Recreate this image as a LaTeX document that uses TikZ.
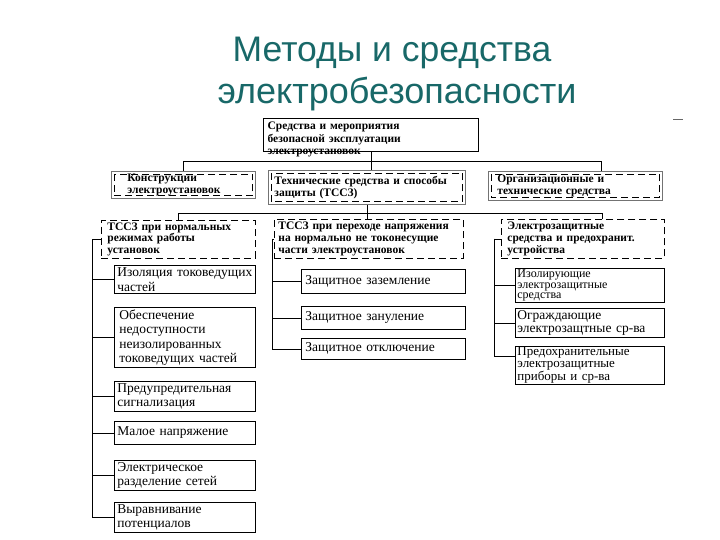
\documentclass[tikz,border=0pt]{standalone}
\usepackage{fontspec}
\setmainfont{Liberation Serif}
\newfontfamily\titlefont{Liberation Sans}
\definecolor{titleteal}{RGB}{24,104,104}

\begin{document}
\begin{tikzpicture}[x=1pt,y=-1pt,
  every node/.style={anchor=north west, align=left, inner ysep=2pt, inner xsep=3pt},
  headbox/.style={draw, font=\bfseries\fontsize{11.5}{12.5}\selectfont},
  groupbox/.style={draw=black!55, thick, font=\bfseries\fontsize{11.5}{12.5}\selectfont},
  dashbox/.style={draw, thick, dash pattern=on 7pt off 4pt, font=\bfseries\fontsize{11.5}{11.8}\selectfont},
  itembox/.style={draw, thick, font=\fontsize{13.5}{14.5}\selectfont},
  link/.style={thick}]
  \useasboundingbox (0,0) rectangle (720,540);

  % title
  \node[anchor=base, font=\titlefont\fontsize{35.5}{40}\selectfont, text=titleteal] (title1) at (392,62) {Методы и средства};
  \node[anchor=base, font=\titlefont\fontsize{36}{40}\selectfont, text=titleteal] (title2) at (397,104) {электробезопасности};
  \draw[black!60, thick] (673,119) -- (683,119);

  % top box
  \node[headbox, very thick, inner xsep=4pt, text width=207pt, text height=9pt, text depth=20pt] (sredstva) at (263,118)
    {Средства и мероприятия\\безопасной эксплуатации\\электроустановок};

  % second row
  \node[groupbox, inner xsep=16pt, text width=112pt, minimum height=27pt] (konstr) at (111,171)
    {Конструкции\\электроустановок};
  \node[groupbox, inner xsep=6pt, text width=185pt, minimum height=34pt] (tssz) at (268,170)
    {Технические средства и способы\\защиты (ТССЗ)};
  \node[groupbox, inner xsep=9pt, text width=156pt, minimum height=29pt] (org) at (488,171)
    {Организационные и\\технические средства};
  \foreach \n in {konstr,tssz,org}
    \draw[thick, dash pattern=on 7pt off 4pt] ([shift={(3pt,-3pt)}]\n.north west) rectangle ([shift={(-3pt,3pt)}]\n.south east);

  % third row
  \node[dashbox, inner xsep=6pt, text width=142pt, minimum height=37pt] (tssz1) at (101,220)
    {ТССЗ при нормальных\\режимах работы\\установок};
  \node[dashbox, inner xsep=4pt, text width=181pt, minimum height=39pt] (tssz2) at (274,219)
    {ТССЗ при переходе напряжения\\на нормально не токонесущие\\части электроустановок};
  \node[dashbox, inner xsep=6pt, text width=151pt, minimum height=39pt] (elzasch) at (501,219)
    {Электрозащитные\\средства и предохранит.\\устройства};

  % left column
  \node[itembox, text width=135pt, minimum height=28pt] (izol) at (114,265) {Изоляция токоведущих\\частей};
  \node[itembox, inner xsep=5pt, text width=131pt, minimum height=59pt] (obesp) at (114,307)
    {Обеспечение\\недоступности\\неизолированных\\токоведущих частей};
  \node[itembox, text width=135pt, minimum height=25pt] (preduprezh) at (114,381) {Предупредительная\\сигнализация};
  \node[itembox, text width=135pt, minimum height=23pt] (maloe) at (114,421) {Малое напряжение};
  \node[itembox, text width=135pt, minimum height=25pt] (razdel) at (114,460) {Электрическое\\разделение сетей};
  \node[itembox, text width=135pt, minimum height=25pt] (vyravn) at (114,502) {Выравнивание\\потенциалов};

  % middle column
  \node[itembox, inner xsep=4pt, text width=156pt, minimum height=24pt] (zazeml) at (301,269) {Защитное заземление};
  \node[itembox, inner xsep=4pt, text width=156pt, minimum height=23pt] (zanul) at (301,306) {Защитное зануление};
  \node[itembox, inner xsep=4pt, text width=156pt, minimum height=21pt] (otkl) at (301,338) {Защитное отключение};

  % right column
  \node[itembox, inner xsep=2pt, inner ysep=1pt, text width=145pt, minimum height=32pt, font=\fontsize{12}{10.8}\selectfont] (izolir) at (515,268)
    {Изолирующие\\электрозащитные\\средства};
  \node[itembox, inner xsep=2pt, text width=145pt, minimum height=27pt, font=\fontsize{13.5}{13.5}\selectfont] (ograzh) at (515,308)
    {Ограждающие\\электрозащтные ср-ва};
  \node[itembox, inner xsep=2pt, inner ysep=1pt, text width=145pt, minimum height=35pt, font=\fontsize{13}{11.5}\selectfont] (predohr) at (515,346)
    {Предохранительные\\электрозащитные\\приборы и ср-ва};

  % connectors
  \draw[link] (sredstva.south) -- ++(0,9) coordinate (bus1);
  \draw[link] (bus1) -| (konstr.north);
  \draw[link] (bus1) -| ([xshift=26pt]org.north);
  \draw[link] (bus1) -- (bus1 |- tssz.north);

  \draw[link] (tssz.south) -- ++(0,9) coordinate (bus2);
  \draw[link] (bus2) -| (tssz1.north);
  \draw[link] (bus2) -| ([xshift=19pt]elzasch.north);
  \draw[link] (bus2) -- (bus2 |- tssz2.north);

  \draw[link] (tssz1.west) -- ++(-9,0) coordinate (spineL);
  \foreach \n in {izol,obesp,preduprezh,maloe,razdel,vyravn}
    \draw[link] (spineL) |- (\n.west);

  \draw[link] (tssz2.west) -- ++(-2,0) coordinate (spineM);
  \foreach \n in {zazeml,zanul,otkl}
    \draw[link] (spineM) |- (\n.west);

  \draw[link] (elzasch.west) -- ++(-7,0) coordinate (spineR);
  \foreach \n in {izolir,ograzh}
    \draw[link] (spineR) |- (\n.west);
  \draw[link] (spineR) |- ([yshift=9pt]predohr.west);
\end{tikzpicture}
\end{document}
